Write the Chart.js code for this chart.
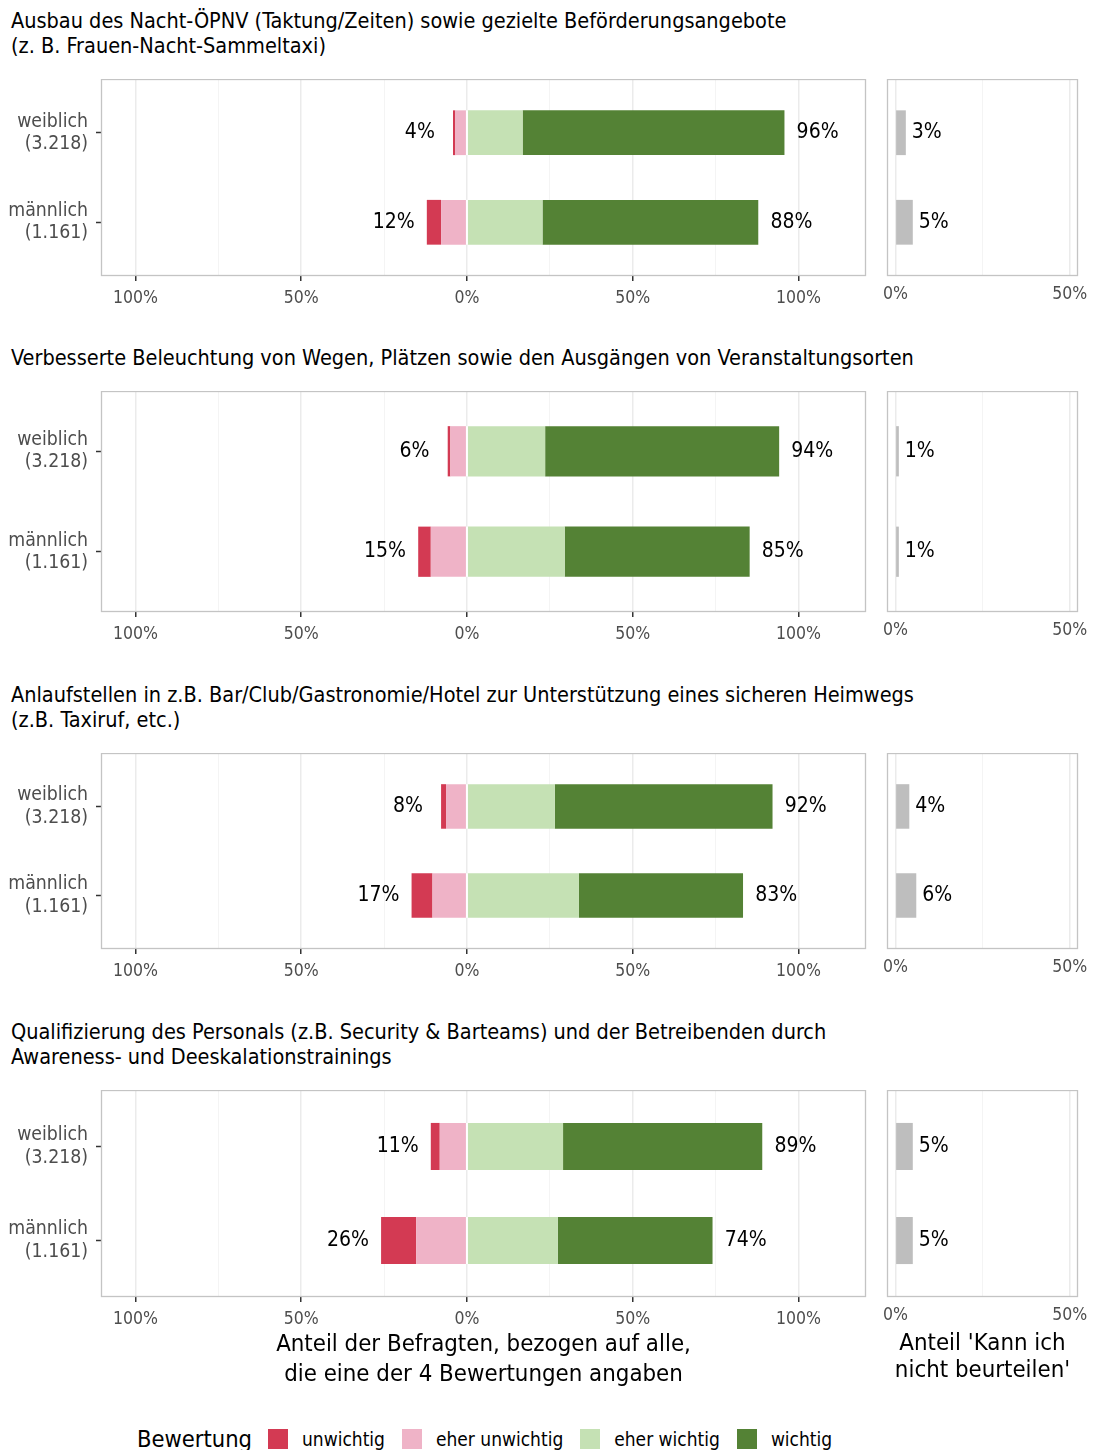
<!DOCTYPE html>
<html>
<head>
<meta charset="utf-8">
<script src="https://cdn.jsdelivr.net/npm/chart.js@4.4.0/dist/chart.umd.min.js"></script>
<style>
  body { margin: 0; background: #fff; width: 1093px; height: 1450px; position: relative; overflow: hidden;
         font-family: 'DejaVu Sans Condensed', 'Liberation Sans Narrow', sans-serif; }
  .abs { position: absolute; }
  .title { left: 11px; font-size: 21.5px; line-height: 25px; color: #000; white-space: nowrap; }
  .axtitle { font-size: 23.8px; color: #000; text-align: center; white-space: nowrap; }
  #legend { left: 137px; top: 1425px; display: flex; align-items: center; font-size: 19px; color: #000; white-space: nowrap; }
  #legend .head { font-size: 23.5px; margin-right: 16px; }
  #legend .sw { width: 20px; height: 20px; margin-right: 14px; }
  #legend .lab { margin-right: 17px; }
</style>
</head>
<body>
<script>
const FONT = "'DejaVu Sans Condensed', 'Liberation Sans Narrow', sans-serif";
Chart.defaults.font.family = FONT;

// data
const titles = [
  ["Ausbau des Nacht-ÖPNV (Taktung/Zeiten) sowie gezielte Beförderungsangebote", "(z. B. Frauen-Nacht-Sammeltaxi)"],
  ["Verbesserte Beleuchtung von Wegen, Plätzen sowie den Ausgängen von Veranstaltungsorten"],
  ["Anlaufstellen in z.B. Bar/Club/Gastronomie/Hotel zur Unterstützung eines sicheren Heimwegs", "(z.B. Taxiruf, etc.)"],
  ["Qualifizierung des Personals (z.B. Security & Barteams) und der Betreibenden durch", "Awareness- und Deeskalationstrainings"]
];
const groups = [["weiblich", "(3.218)"], ["männlich", "(1.161)"]];
const ratings = ["unwichtig", "eher unwichtig", "eher wichtig", "wichtig"];
const colors = ["#d33a53", "#efb3c7", "#c5e1b4", "#548235"];

// per panel: [weiblich, männlich]
const unwichtig     = [[0.7, 4.3], [0.8, 3.8], [1.5, 6.3], [2.7, 10.6]];
const eherUnwichtig = [[3.5, 7.8], [5.0, 10.9], [6.3, 10.4], [8.2, 15.3]];
const eherWichtig   = [[16.8, 22.8], [23.6, 29.5], [26.5, 33.8], [29.0, 27.4]];
const wichtig       = [[79.0, 65.1], [70.6, 55.8], [65.7, 49.5], [60.1, 46.7]];
const kannNicht     = [[3, 5], [1, 1], [4, 6], [5, 5]];

const mainTicks = [-100, -75, -50, -25, 0, 25, 50, 75, 100];
const sideTicks = [0, 25, 50];
const groupPos = [1, 2];

// layout of the four rows (pixels)
const rows = [
  { title: 8,    top: 79,   h: 197 },
  { title: 345,  top: 391,  h: 221 },
  { title: 682,  top: 753,  h: 196 },
  { title: 1019, top: 1090, h: 207 }
];

const isMajor = v => v % 50 === 0;
const noPad = s => { s.paddingTop = 0; s.paddingBottom = 0; s.paddingLeft = 0; s.paddingRight = 0; };
const groupRange = s => { s.min = 0.4; s.max = 2.6; };

const panelBorder = {
  id: 'panelBorder',
  afterDraw(chart) {
    const a = chart.chartArea, ctx = chart.ctx;
    ctx.save();
    ctx.strokeStyle = '#c4c4c4';
    ctx.lineWidth = 1.3;
    ctx.strokeRect(a.left + 0.5, a.top + 0.5, a.right - a.left - 1, a.bottom - a.top - 1);
    ctx.restore();
  }
};

function mainLabels(p) {
  return {
    id: 'mainLabels',
    afterDatasetsDraw(chart) {
      const ctx = chart.ctx, xs = chart.scales.x, ys = chart.scales.y;
      ctx.save();
      // white gap at zero
      chart.getDatasetMeta(2).data.forEach(bar => {
        const { y, height } = bar.getProps(['y', 'height'], true);
        ctx.fillStyle = '#fff';
        ctx.fillRect(xs.getPixelForValue(0) - 1, y - height / 2, 2, height);
      });
      ctx.fillStyle = '#000';
      ctx.font = '21px ' + FONT;
      ctx.textAlign = 'center';
      ctx.textBaseline = 'middle';
      groupPos.forEach((g, j) => {
        const neg = unwichtig[p][j] + eherUnwichtig[p][j];
        const pos = eherWichtig[p][j] + wichtig[p][j];
        const y = ys.getPixelForValue(g);
        ctx.fillText(Math.round(neg) + '%', xs.getPixelForValue(-neg - 10), y);
        ctx.fillText(Math.round(pos) + '%', xs.getPixelForValue(pos + 10), y);
      });
      ctx.restore();
    }
  };
}

function sideLabels(p) {
  return {
    id: 'sideLabels',
    afterDatasetsDraw(chart) {
      const ctx = chart.ctx, xs = chart.scales.x, ys = chart.scales.y;
      ctx.save();
      ctx.fillStyle = '#000';
      ctx.font = '21px ' + FONT;
      ctx.textAlign = 'left';
      ctx.textBaseline = 'middle';
      groupPos.forEach((g, j) => {
        const v = kannNicht[p][j];
        ctx.fillText(v + '%', xs.getPixelForValue(v) + 6, ys.getPixelForValue(g));
      });
      ctx.restore();
    }
  };
}

function mainChart(canvas, p) {
  const pos = arr => arr[p].map((v, j) => ({ x: v, y: groupPos[j] }));
  const neg = arr => arr[p].map((v, j) => ({ x: -v, y: groupPos[j] }));
  new Chart(canvas, {
    type: 'bar',
    data: {
      datasets: [
        { label: ratings[1], data: neg(eherUnwichtig), backgroundColor: colors[1] },
        { label: ratings[0], data: neg(unwichtig), backgroundColor: colors[0] },
        { label: ratings[2], data: pos(eherWichtig), backgroundColor: colors[2] },
        { label: ratings[3], data: pos(wichtig), backgroundColor: colors[3] }
      ]
    },
    options: {
      indexAxis: 'y',
      responsive: false,
      animation: false,
      layout: { padding: { right: 4 } },
      datasets: { bar: { categoryPercentage: 1, barPercentage: 0.5 } },
      plugins: { legend: { display: false }, tooltip: { enabled: false } },
      scales: {
        x: {
          type: 'linear', stacked: true, min: -110.4, max: 120.4,
          afterBuildTicks: s => { s.ticks = mainTicks.map(v => ({ value: v })); },
          afterFit: s => { s.height = 45; noPad(s); },
          border: { display: false },
          grid: {
            color: c => isMajor(c.tick.value) ? '#ebebeb' : '#f4f4f4',
            lineWidth: c => isMajor(c.tick.value) ? 1.5 : 1,
            tickColor: c => isMajor(c.tick.value) ? '#333' : 'rgba(0,0,0,0)',
            tickWidth: 1.5,
            tickLength: 5
          },
          ticks: {
            callback: v => isMajor(v) ? Math.abs(v) + '%' : '',
            color: '#4d4d4d', font: { size: 17.5 }, padding: 7, autoSkip: false, maxRotation: 0
          }
        },
        y: {
          type: 'linear', stacked: true, reverse: true, min: 0.4, max: 2.6,
          offset: false, bounds: 'data',
          afterDataLimits: groupRange,
          afterBuildTicks: s => { s.ticks = groupPos.map(v => ({ value: v })); groupRange(s); },
          afterFit: s => { s.width = 101; noPad(s); },
          border: { display: false },
          grid: { offset: false, drawOnChartArea: false, color: '#333', tickWidth: 1.5, tickLength: 5 },
          ticks: {
            callback: v => groups[groupPos.indexOf(v)],
            color: '#4d4d4d', font: { size: 19.3, lineHeight: 1.15 }, padding: 8, autoSkip: false
          }
        }
      }
    },
    plugins: [panelBorder, mainLabels(p)]
  });
}

function sideChart(canvas, p) {
  new Chart(canvas, {
    type: 'bar',
    data: {
      datasets: [{ data: kannNicht[p].map((v, j) => ({ x: v, y: groupPos[j] })), backgroundColor: '#bebebe' }]
    },
    options: {
      indexAxis: 'y',
      responsive: false,
      animation: false,
      layout: { padding: { left: 7, right: 15 } },
      datasets: { bar: { categoryPercentage: 1, barPercentage: 0.5 } },
      plugins: { legend: { display: false }, tooltip: { enabled: false } },
      scales: {
        x: {
          type: 'linear', min: -2.4, max: 52.4,
          afterBuildTicks: s => { s.ticks = sideTicks.map(v => ({ value: v })); },
          afterFit: s => { s.height = 45; noPad(s); },
          border: { display: false },
          grid: {
            color: c => isMajor(c.tick.value) ? '#ebebeb' : '#f4f4f4',
            lineWidth: c => isMajor(c.tick.value) ? 1.5 : 1,
            drawTicks: false
          },
          ticks: {
            callback: v => isMajor(v) ? v + '%' : '',
            color: '#4d4d4d', font: { size: 17.5 }, padding: 8, autoSkip: false, maxRotation: 0
          }
        },
        y: {
          type: 'linear', reverse: true, min: 0.4, max: 2.6, display: false,
          offset: false, bounds: 'data', grid: { offset: false },
          afterDataLimits: groupRange,
          afterBuildTicks: s => { s.ticks = groupPos.map(v => ({ value: v })); groupRange(s); },
          afterFit: noPad
        }
      }
    },
    plugins: [panelBorder, sideLabels(p)]
  });
}

function add(tag, cls, css) {
  const e = document.createElement(tag);
  if (cls) e.className = cls;
  Object.assign(e.style, css || {});
  document.body.appendChild(e);
  return e;
}

rows.forEach((r, p) => {
  const t = add('div', 'abs title', { top: r.title + 'px' });
  t.innerHTML = titles[p].join('<br>');

  const c = add('canvas', 'abs', { left: '0px', top: r.top + 'px' });
  c.width = 870; c.height = r.h + 45;
  mainChart(c, p);

  const s = add('canvas', 'abs', { left: '880px', top: r.top + 'px' });
  s.width = 213; s.height = r.h + 45;
  sideChart(s, p);
});

// axis titles
const mt = add('div', 'abs axtitle', { left: '101px', width: '765px', top: '1328px', lineHeight: '30px' });
mt.innerHTML = 'Anteil der Befragten, bezogen auf alle,<br>die eine der 4 Bewertungen angaben';
const st = add('div', 'abs axtitle', { left: '887px', width: '191px', top: '1329px', lineHeight: '27px' });
st.innerHTML = "Anteil 'Kann ich<br>nicht beurteilen'";

// legend
const lg = add('div', 'abs', {});
lg.id = 'legend';
lg.innerHTML = '<span class="head">Bewertung</span>' +
  ratings.map((r, i) => '<span class="sw" style="background:' + colors[i] + '"></span><span class="lab">' + r + '</span>').join('');
</script>
</body>
</html>
